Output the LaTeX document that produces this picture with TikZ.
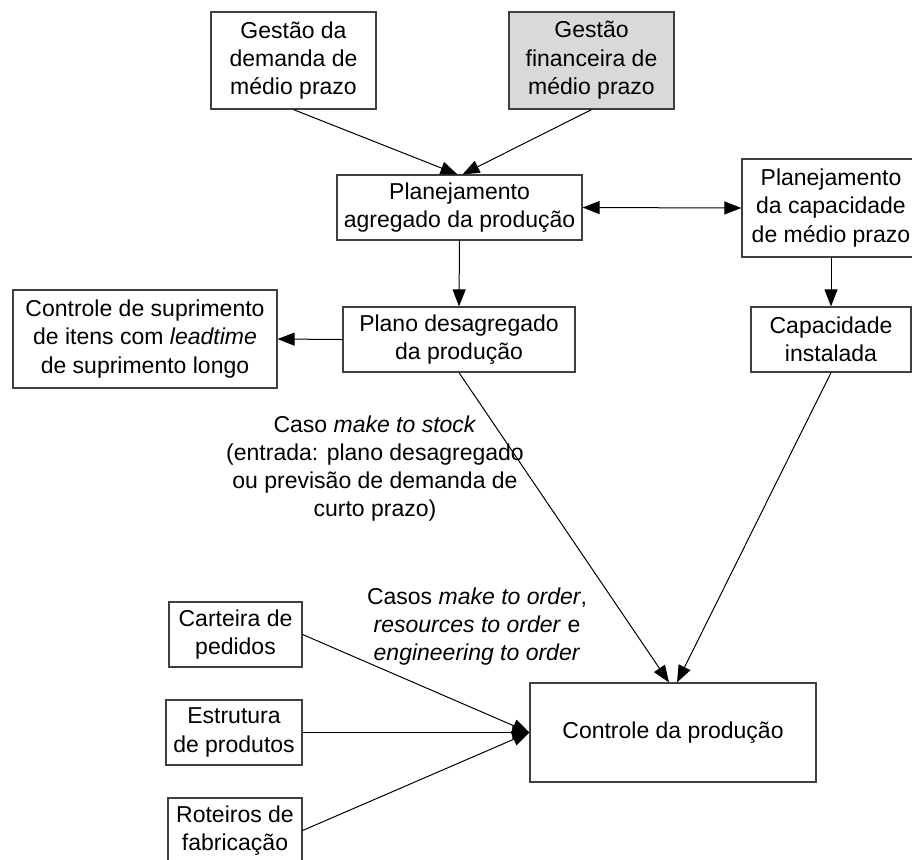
\documentclass[tikz,border=0pt]{standalone}
\usepackage{fontspec}
\setmainfont{Liberation Sans}
\usetikzlibrary{arrows.meta}
\definecolor{cinza}{HTML}{D9D9D9}
\begin{document}
\begin{tikzpicture}[x=0.5pt,y=-0.5pt,
	caixa/.style={draw=black!75, line width=0.6pt, align=center, inner sep=0pt, font=\fontsize{11.5}{14.2}\selectfont},
	rotulo/.style={align=center, inner sep=0pt, font=\fontsize{11.5}{14}\selectfont},
	ponta/.tip={Triangle[length=8.5pt,width=6.5pt]},
	seta/.style={-ponta, line width=0.5pt}]
	\useasboundingbox (0,0) rectangle (912,859);

	\node[caixa, minimum width=82.5pt, minimum height=48.5pt] (dem) at (293.5,60.5) {Gestão da\\demanda de\\médio prazo};
	\node[caixa, fill=cinza, minimum width=82.5pt, minimum height=48.5pt] (fin) at (591.5,60.5) {Gestão\\financeira de\\médio prazo};
	\node[caixa, minimum width=122.5pt, minimum height=32.5pt] (agr) at (459.5,207.5) {Planejamento\\agregado da produção};
	\node[caixa, minimum width=89pt, minimum height=49pt] (cap) at (831,208) {Planejamento\\da capacidade\\de médio prazo};
	\node[caixa, minimum width=116pt, minimum height=32.5pt] (plano) at (459,339.5) {Plano desagregado\\da produção};
	\node[caixa, minimum width=132pt, minimum height=49pt] (sup) at (145,339) {Controle de suprimento\\de itens com \textit{leadtime}\\de suprimento longo};
	\node[caixa, minimum width=80pt, minimum height=32.5pt] (inst) at (831,339.5) {Capacidade\\instalada};
	\node[caixa, minimum width=143pt, minimum height=49.5pt] (ctrl) at (673,732.5) {Controle da produção};
	\node[caixa, minimum width=66.5pt, minimum height=32.5pt] (cart) at (235.5,634.5) {Carteira de\\pedidos};
	\node[caixa, minimum width=68pt, minimum height=32.5pt] (estr) at (234,732.5) {Estrutura\\de produtos};
	\node[caixa, minimum width=67pt, minimum height=32.5pt] (rot) at (235,830.5) {Roteiros de\\fabricação};

	\node[rotulo] (mts) at (375,469) {Caso \textit{make to stock}\\(entrada: plano desagregado\\ou previsão de demanda de\\curto prazo)};
	\node[rotulo] (mto) at (477,627) {Casos \textit{make to order},\\\textit{resources to order} e\\\textit{engineering to order}};

	\draw[seta] (dem.south) -- ([xshift=-1pt]agr.north);
	\draw[seta] (fin.south) -- ([xshift=1.5pt]agr.north);
	\draw[seta, ponta-ponta] (agr.east) -- (cap.west);
	\draw[seta] (agr.south) -- (plano.north);
	\draw[seta] (cap.south) -- (inst.north);
	\draw[seta] (plano.west) -- (sup.east);
	\draw[seta] (plano.south) -- ([xshift=-2pt]ctrl.north);
	\draw[seta] (inst.south) -- ([xshift=2pt]ctrl.north);
	\draw[seta] (cart.east) -- (ctrl.west);
	\draw[seta] (estr.east) -- (ctrl.west);
	\draw[seta] (rot.east) -- (ctrl.west);

\end{tikzpicture}
\end{document}
